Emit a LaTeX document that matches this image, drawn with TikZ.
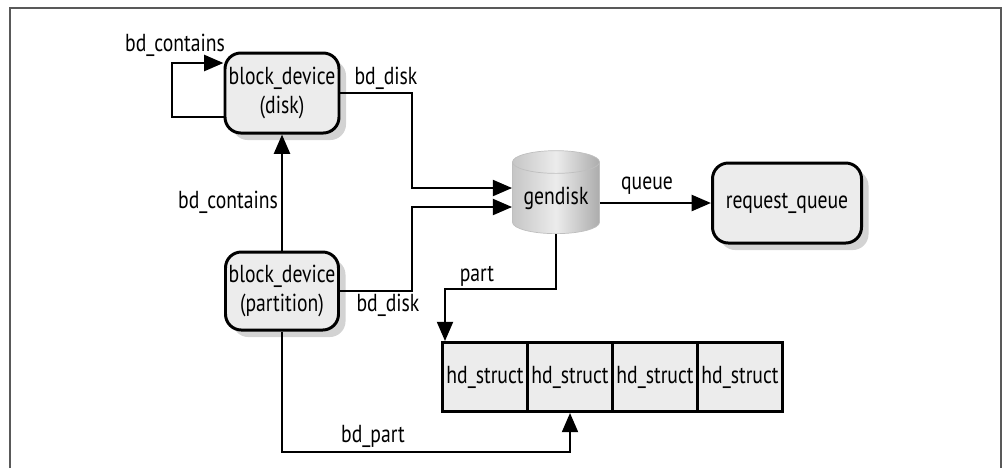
\documentclass[tikz,border=0pt]{standalone}
\usepackage{fontspec}
\setmainfont{PT Sans}[FakeStretch=0.8]
\usetikzlibrary{positioning, shapes.geometric, shadows, arrows.meta}

\begin{document}
\begin{tikzpicture}[x=0.02cm, y=-0.02cm, font=\fontsize{14}{16}\selectfont]
        % Setup the styles
        \tikzset{dev style/.style={draw, rounded corners=9pt, line width=1.7pt,
                                    fill=gray!15, align=center, inner sep=0pt,
                                    drop shadow={shadow xshift=4pt, shadow yshift=-4pt, opacity=0.35}},
                 hd style/.style={draw, line width=1.6pt, fill=gray!15,
                                    minimum width=85*0.02cm, minimum height=69*0.02cm,
                                    inner sep=0pt},
                 link/.style={line width=1.6pt, -{Triangle[length=11pt, width=9pt]}}}
        \useasboundingbox (0,0) rectangle (1003,468);
        \draw[gray!70!black, line width=0.8pt] (10,468) -- (10,8) -- (1001,8) -- (1001,468);

        % Draw the nodes
        \node[dev style, minimum width=114*0.02cm, minimum height=80*0.02cm] at (282,93) (disk) {block\_device\\(disk)};
        \node[dev style, minimum width=113*0.02cm, minimum height=78*0.02cm] at (282,291) (partition) {block\_device\\(partition)};
        \node[cylinder, shape border rotate=90, aspect=0.35, draw=gray!50, left color=gray!45,
              right color=gray!65, middle color=gray!15, inner sep=0pt,
              minimum width=87*0.02cm, minimum height=83*0.02cm] at (556,198) (gendisk) {gendisk};
        \node[dev style, minimum width=149*0.02cm, minimum height=80*0.02cm] at (787,203) (queue) {request\_queue};
        \foreach \i/\x in {1/485, 2/570, 3/655, 4/740}
              \node[hd style] at (\x,377) (hd\i) {hd\_struct};

        % Connect the nodes
        \coordinate (loopa) at (172,117);
        \draw[link] (disk.west |- loopa) -- (loopa) -- (172,63) -- (disk.west |- 0,63);
        \node at (175,45) {bd\_contains};
        \draw[link] (disk.east) -- (412,93) -- (412,188) -- (gendisk.west |- 0,188);
        \node at (386,78) {bd\_disk};
        \draw[link] (partition.east) -- (412,291) -- (412,207) -- (gendisk.west |- 0,207);
        \node at (388,305) {bd\_disk};
        \draw[link] (partition.north) -- (disk.south);
        \node at (228,202) {bd\_contains};
        \draw[link] (gendisk.east |- 0,203) -- (queue.west);
        \node at (647,186) {queue};
        \draw[link] (gendisk.south) -- (556,289) -- (445,289) -- (hd1.north -| 445,0);
        \node at (477,276) {part};
        \draw[link] (partition.south) -- (282,452) -- (570,452) -- (hd2.south -| 570,0);
        \node at (373,436) {bd\_part};
\end{tikzpicture}
\end{document}
